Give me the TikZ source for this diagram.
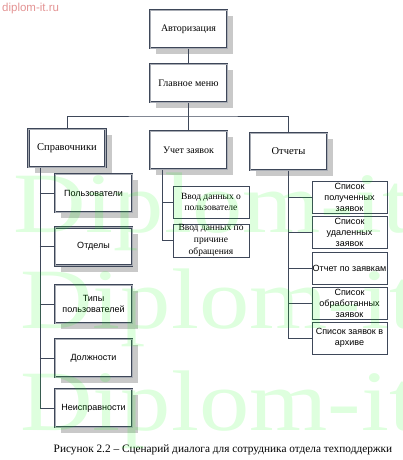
\documentclass[tikz,border=0pt]{standalone}
\usepackage{fontspec}
\usepackage{graphicx}
\setmainfont{Liberation Serif}
\setsansfont{Liberation Sans}
\usetikzlibrary{positioning,calc,shadows}
\definecolor{boxline}{HTML}{3E4759}
\definecolor{shade}{HTML}{C9C9C9}
\definecolor{wmgreen}{HTML}{00FF00}
\definecolor{sitepink}{HTML}{E39393}

\begin{document}
\begin{tikzpicture}[
  x=1pt, y=-1pt,
  every node/.style={inner sep=1pt},
  link/.style={draw=boxline, line width=0.9pt},
  mainbox/.style={draw=boxline, line width=1.1pt, double=boxline!45,
                  double distance=0.5pt, fill=white, align=center,
                  minimum width=77pt, minimum height=38pt,
                  drop shadow={shadow xshift=6pt, shadow yshift=-6pt,
                               fill=shade, opacity=1},
                  font=\fontsize{10}{12}\selectfont},
  subbox/.style={mainbox, font=\sffamily\fontsize{9}{11}\selectfont},
  thinbox/.style={draw=boxline, line width=0.7pt, fill=white, align=center,
                  minimum width=76pt, minimum height=32pt, inner sep=0pt},
  entrybox/.style={thinbox, font=\fontsize{9.5}{11.7}\selectfont},
  reportbox/.style={thinbox, minimum width=75pt,
                    font=\sffamily\fontsize{9}{11}\selectfont},
  watermark/.style={font=\fontsize{86}{86}\selectfont, text=wmgreen,
                    opacity=0.13, inner sep=0pt, anchor=base west},
]
  \path[use as bounding box] (0,0) rectangle (402,460);

  % Top of the scenario
  \node[mainbox] (auth) at (188.5,29) {Авторизация};
  \node[mainbox] (menu) at (188.5,83) {Главное меню};
  \draw[link] (auth) -- (menu);

  % Three menu sections
  \node[mainbox, font=\fontsize{10.5}{12}\selectfont] (spr) at (67,148) {Справочники};
  \node[mainbox] (uchet) at (188.5,150) {Учет заявок};
  \node[mainbox, font=\fontsize{10.5}{12}\selectfont, minimum height=37pt] (otch) at (288.5,151.5) {Отчеты};
  \coordinate (bus) at (188.5,116);
  \draw[link] (menu) -- (bus);
  \draw[link] (spr.north) |- (bus) -| (otch.north);
  \draw[link] (bus) -- (uchet);

  % Reference books
  \node[subbox] (polz) at (93.5,193) {Пользователи};
  \node[subbox] (otd) at (93.5,246.5) {Отделы};
  \node[subbox] (tipy) at (93.5,304) {Типы\\пользователей};
  \node[subbox] (dolzh) at (93.5,358) {Должности};
  \node[subbox] (neispr) at (93.5,408) {Неисправности};
  \coordinate (sprroot) at ($(spr.south west)+(12,0)$);
  \draw[link] (sprroot) |- (neispr.west);
  \foreach \n in {polz,otd,tipy,dolzh}
    \draw[link] (sprroot |- \n.west) -- (\n.west);

  % Request entry
  \node[entrybox] (vvoduser) at (211,202) {Ввод данных о\\пользователе};
  \node[entrybox, minimum height=33pt] (vvodreason) at (211,240.5) {Ввод данных по\\причине\\обращения};
  \coordinate (uchroot) at ($(uchet.south west)+(13,0)$);
  \draw[link] (uchroot) |- (vvodreason.west);
  \draw[link] (uchroot |- vvoduser.west) -- (vvoduser.west);

  % Reports
  \node[reportbox] (poluch) at (349.5,197) {Список\\полученных\\заявок};
  \node[reportbox] (udal) at (349.5,232) {Список\\удаленных\\заявок};
  \node[reportbox] (otchet) at (349.5,268) {Отчет по заявкам};
  \node[reportbox] (obrab) at (349.5,303) {Список\\обработанных\\заявок};
  \node[reportbox] (arhiv) at (349.5,338) {Список заявок в\\архиве};
  \draw[link] (otch.south) |- (arhiv.west);
  \foreach \n in {poluch,udal,otchet,obrab}
    \draw[link] (otch.south |- \n.west) -- (\n.west);

  % Caption and site mark
  \node[font=\fontsize{11.3}{13}\selectfont] (caption) at (223,450)
    {Рисунок 2.2 – Сценарий диалога для сотрудника отдела техподдержки};
  \node[anchor=west, text=sitepink, font=\sffamily\fontsize{11.5}{13}\selectfont] (site) at (1,9) {diplom-it.ru};

  % Watermark
  \begin{scope}
    \clip (0,0) rectangle (402,460);
    \foreach \x/\y [count=\i] in {13/232, 20/328, 20/430}
      \node[watermark] (wm\i) at (\x,\y) {\scalebox{1.17}[1]{Diplom-it}};
  \end{scope}
\end{tikzpicture}
\end{document}
